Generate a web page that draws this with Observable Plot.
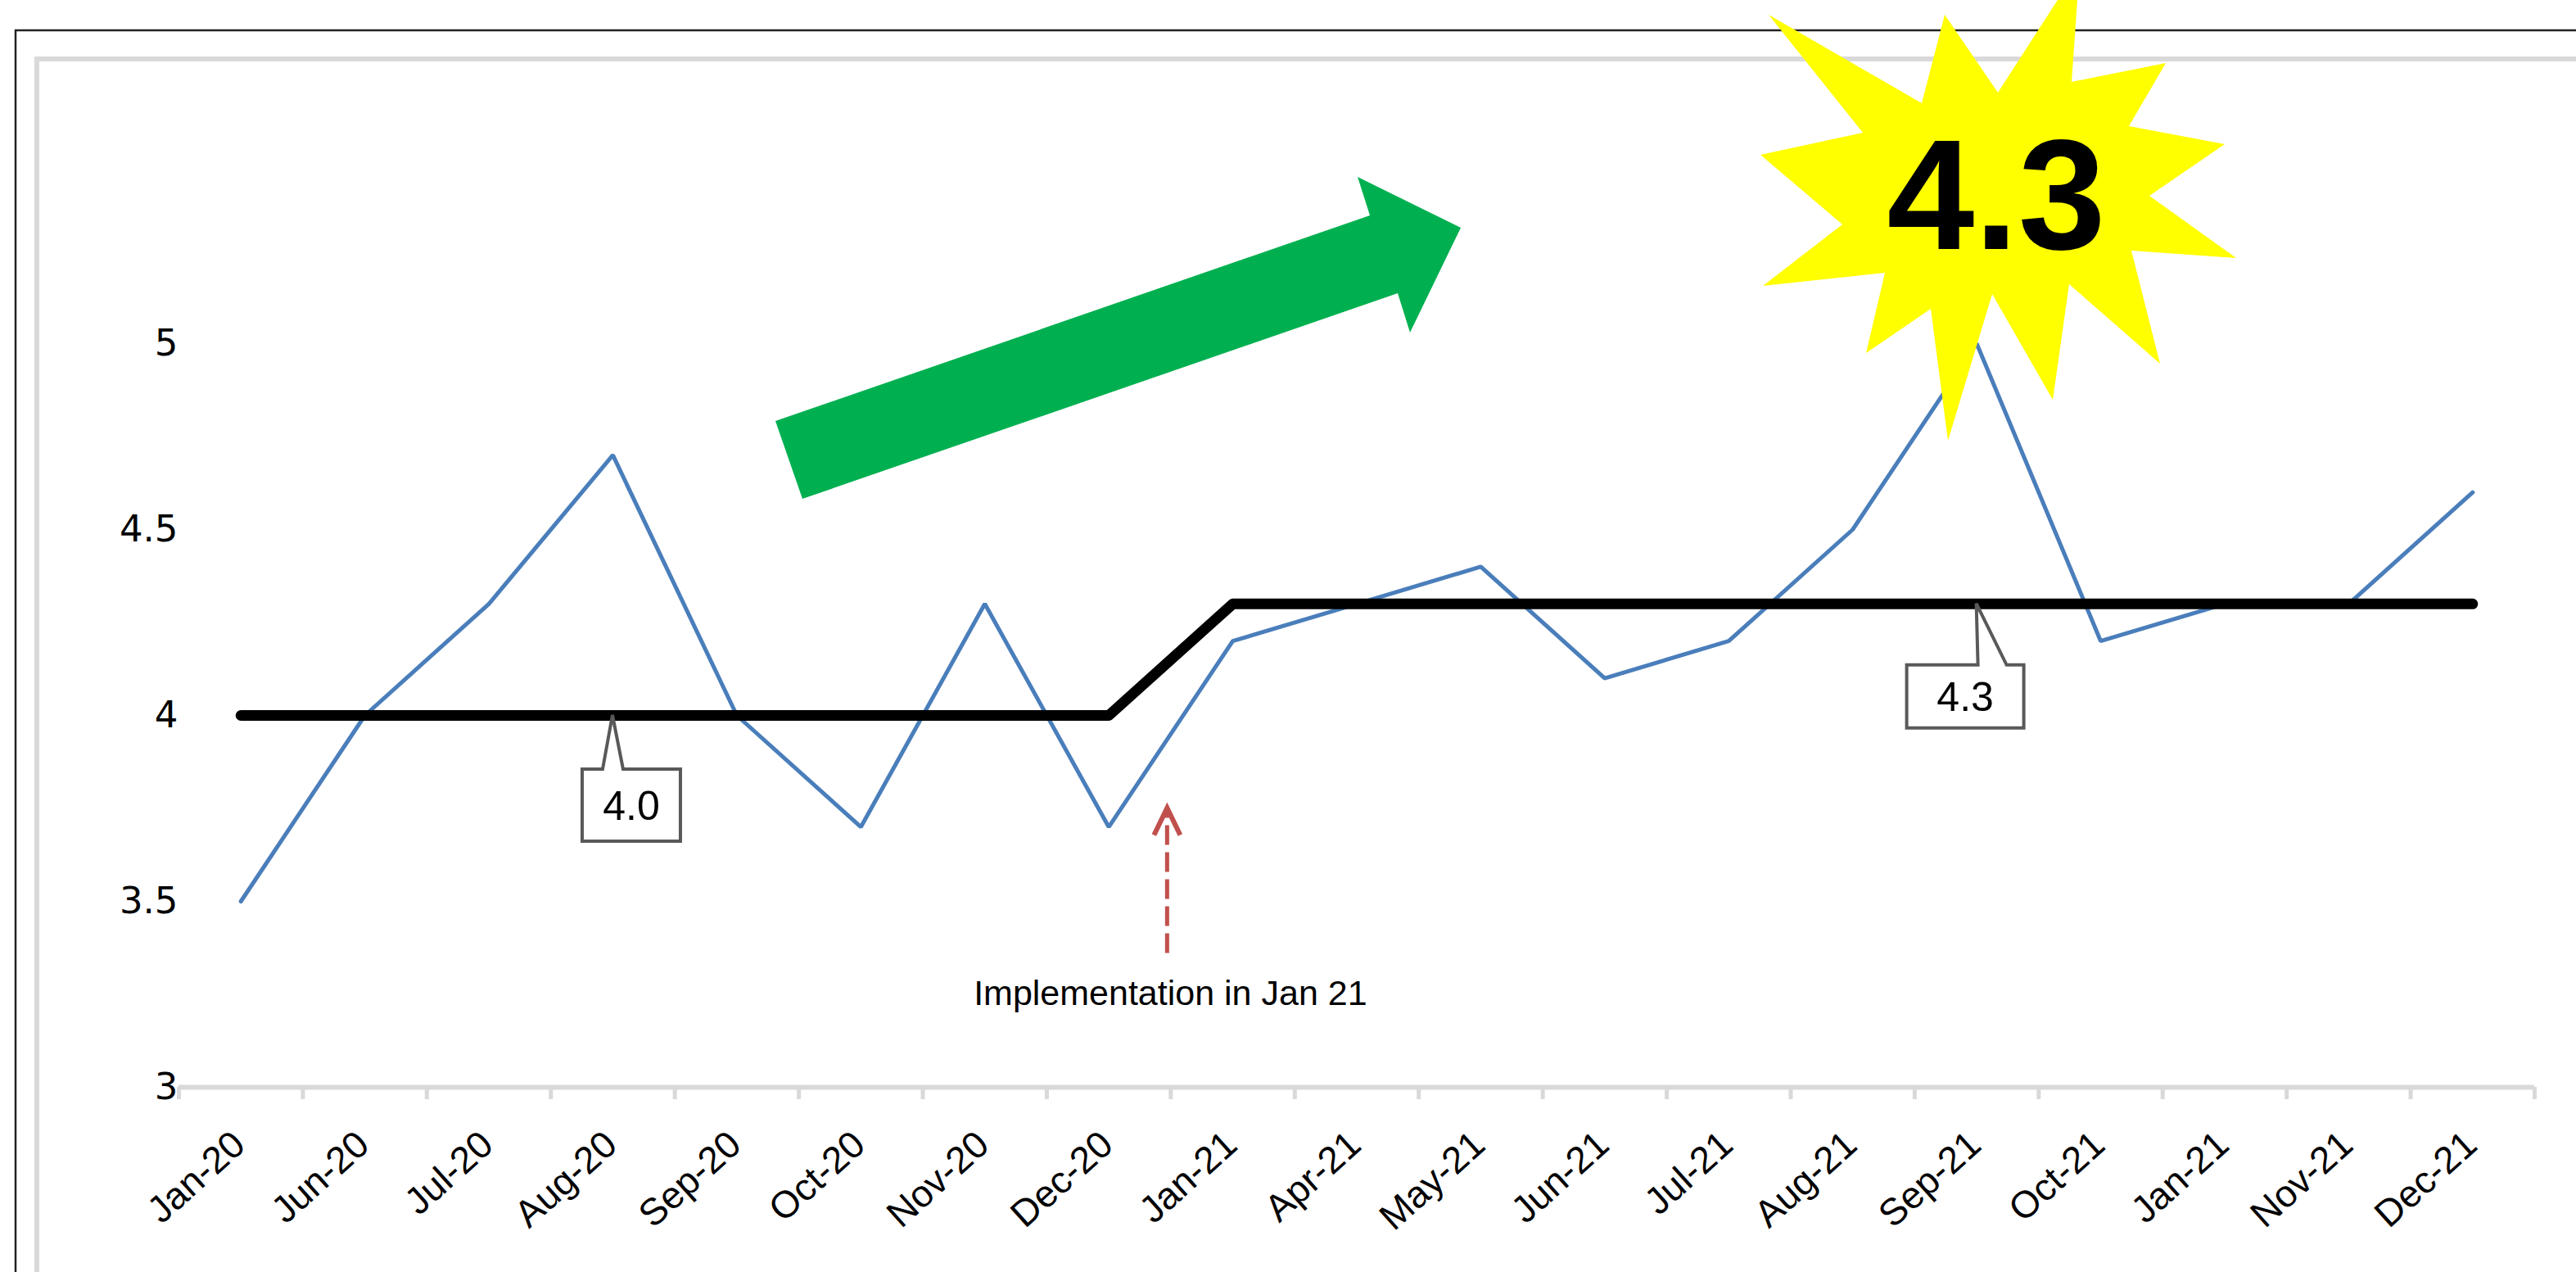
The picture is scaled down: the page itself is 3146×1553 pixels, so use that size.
<!DOCTYPE html>
<html>
<head>
<meta charset="utf-8">
<script src="https://cdn.jsdelivr.net/npm/d3@7"></script>
<script src="https://cdn.jsdelivr.net/npm/@observablehq/plot@0.6"></script>
<style>
  html, body { margin: 0; padding: 0; background: #fff; overflow: hidden; }
  #chart svg { display: block; }
</style>
</head>
<body>
<div id="chart"></div>
<script>
// ---- data ----
const months = ["Jan-20","Jun-20","Jul-20","Aug-20","Sep-20","Oct-20","Nov-20","Dec-20",
                "Jan-21","Apr-21","May-21","Jun-21","Jul-21","Aug-21","Sep-21","Oct-21",
                "Jan-21","Nov-21","Dec-21"];
const scores = [3.5, 4.0, 4.3, 4.7, 4.0, 3.7, 4.3, 3.7,
                4.2, 4.3, 4.4, 4.1, 4.2, 4.5, 5.0, 4.2,
                4.3, 4.3, 4.6];
const medianLine = [4.0, 4.0, 4.0, 4.0, 4.0, 4.0, 4.0, 4.0,
                    4.3, 4.3, 4.3, 4.3, 4.3, 4.3, 4.3, 4.3,
                    4.3, 4.3, 4.3];
const yTicks = [3, 3.5, 4, 4.5, 5];
const calloutIndex = [3, 14];
const implementationText = "Implementation in Jan 21";
const implementationMonth = 8; // first month after change (Jan-21)
const newMedian = 4.3;

// ---- derived tables ----
const idx = d3.range(months.length);
const scoreRows = idx.map(i => ({i, v: scores[i]}));
const medianRows = idx.map(i => ({i, v: medianLine[i]}));
const bandEdges = d3.range(months.length + 1).map(k => k - 0.5);

const FONT = "'Liberation Sans', Arial, sans-serif";
const W = 3146, H = 1553;

const chart = Plot.plot({
  width: W,
  height: H,
  marginLeft: 218,
  marginRight: 51,
  marginTop: 192,
  marginBottom: 226,
  style: {fontFamily: FONT, background: "white", color: "black"},
  x: {type: "linear", domain: [-0.5, months.length - 0.5], axis: null},
  y: {domain: [3, 5.5], axis: null},
  marks: [
    Plot.ruleY([3], {stroke: "#d9d9d9", strokeWidth: 6}),
    Plot.axisX({ticks: bandEdges, tickSize: 15, tickFormat: () => "", stroke: "#d9d9d9", strokeWidth: 5, label: null}),
    // category labels, rotated
    Plot.text(idx, {x: i => i, frameAnchor: "bottom", text: i => months[i], rotate: -42,
                    textAnchor: "end", lineAnchor: "middle", dx: -2, dy: 63,
                    fontSize: 46, fill: "black"}),
    // value labels
    Plot.text(yTicks, {y: d => d, frameAnchor: "left", text: d => String(d), textAnchor: "end",
                       dx: -1, fontSize: 45, fontFamily: "'DejaVu Sans', sans-serif", fill: "black"}),
    Plot.line(scoreRows, {x: "i", y: "v", stroke: "#4a7ebb", strokeWidth: 5, strokeLinejoin: "miter"}),
    Plot.line(medianRows, {x: "i", y: "v", stroke: "#000", strokeWidth: 13, strokeLinecap: "round", strokeLinejoin: "round"})
  ]
});

document.getElementById("chart").appendChild(chart);

// ---- annotations, positioned through the chart's scales ----
const xs = chart.scale("x"), ys = chart.scale("y");
const svg = d3.select(chart);

// frame borders (behind everything)
const frame = svg.insert("g", ":first-child");
frame.append("rect").attr("x", 19).attr("y", 37).attr("width", W * 2).attr("height", H * 2)
  .attr("fill", "none").attr("stroke", "#222").attr("stroke-width", 2.5);
frame.append("rect").attr("x", 45).attr("y", 72).attr("width", W * 2).attr("height", H * 2)
  .attr("fill", "none").attr("stroke", "#d9d9d9").attr("stroke-width", 6);

const deco = svg.append("g");

// callouts for the median values
const calloutShape = [
  {left: -37, right: 83, top: 66, bottom: 154, pl: -12, pr: 13},
  {left: -85, right: 58, top: 75, bottom: 152, pl: 2, pr: 37}
];
calloutIndex.forEach((ci, k) => {
  const tx = xs.apply(ci), ty = ys.apply(medianLine[ci]);
  const s = calloutShape[k];
  const L = tx + s.left, R = tx + s.right, T = ty + s.top, B = ty + s.bottom;
  const path = `M${L},${T}L${tx + s.pl},${T}L${tx},${ty}L${tx + s.pr},${T}L${R},${T}L${R},${B}L${L},${B}Z`;
  deco.append("path").attr("d", path).attr("fill", "white").attr("stroke", "#595959")
    .attr("stroke-width", 4).attr("stroke-linejoin", "miter");
  deco.append("text").attr("x", (L + R) / 2).attr("y", (T + B) / 2).attr("dy", "0.36em")
    .attr("text-anchor", "middle").attr("font-size", 50).attr("font-family", FONT)
    .text(d3.format(".1f")(medianLine[ci]));
});

// implementation marker
const ix = xs.apply(implementationMonth - 0.5) - 4;
const arrowTop = ys.apply(3.75), arrowBottom = ys.apply(3.36);
deco.append("line").attr("x1", ix).attr("x2", ix).attr("y1", arrowBottom).attr("y2", arrowTop + 6)
  .attr("stroke", "#c0504d").attr("stroke-width", 5).attr("stroke-dasharray", "24 9");
deco.append("path")
  .attr("d", `M${ix - 16},${arrowTop + 33}L${ix},${arrowTop}L${ix + 16},${arrowTop + 33}`)
  .attr("fill", "none").attr("stroke", "#c0504d").attr("stroke-width", 6).attr("stroke-linejoin", "miter");
deco.append("text").attr("x", ix + 4).attr("y", ys.apply(3.36) + 63)
  .attr("text-anchor", "middle").attr("font-size", 43).attr("font-family", FONT)
  .text(implementationText);

// green trend arrow
const greenArrow = [[947,514],[1673,263],[1658,216],[1784,278],[1722,406],[1707,358],[980,609]];
deco.append("polygon").attr("points", greenArrow.map(p => p.join(",")).join(" ")).attr("fill", "#00b050");

// yellow starburst with new median
const star = [[2160,18],[2347,126],[2375,18],[2440,113],[2540,-42],[2530,100],[2645,77],[2600,154],
              [2717,176],[2625,239],[2731,315],[2603,306],[2638,444],[2527,347],[2507,488],[2433,359],
              [2379,538],[2358,377],[2279,431],[2302,333],[2153,349],[2250,274],[2150,189],[2275,162]];
deco.append("polygon").attr("points", star.map(p => p.join(",")).join(" ")).attr("fill", "#ffff00");
deco.append("text").attr("x", 2438).attr("y", 304).attr("text-anchor", "middle")
  .attr("font-size", 192).attr("font-weight", "bold").attr("font-family", FONT)
  .text(d3.format(".1f")(newMedian));
</script>
</body>
</html>
